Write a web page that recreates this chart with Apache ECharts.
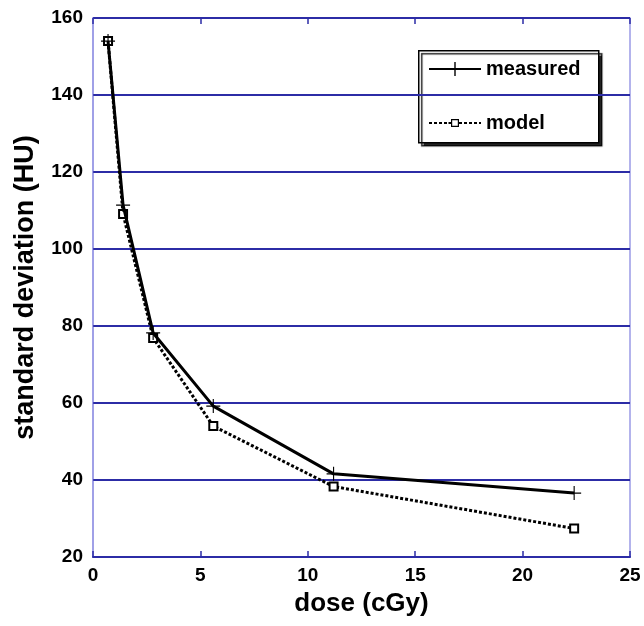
<!DOCTYPE html>
<html>
<head>
<meta charset="utf-8">
<script src="https://cdn.jsdelivr.net/npm/echarts@6/dist/echarts.min.js"></script>
<style>
  html, body { margin: 0; padding: 0; background: #fff; }
  #chart { width: 644px; height: 626px; }
</style>
</head>
<body>
<div id="chart"></div>
<script>
// dose values (cGy) and standard deviation (HU)
var doses = [0.7, 1.4, 2.8, 5.6, 11.2, 22.4];
var measured = [154, 111.4, 78.2, 59.2, 41.6, 36.6];
var model = [154, 109.1, 76.9, 54, 38.3, 27.4];
var xTicks = [0, 5, 10, 15, 20, 25];
var yTicks = [20, 40, 60, 80, 100, 120, 140, 160];

var gridBlue = "#2c2ca6";
var lightBlue = "#9a9ae6";
var font = "Liberation Sans";

function pairs(xs, ys) {
  return xs.map(function (x, i) { return [x, ys[i]]; });
}

// legend icons: solid line with a cross, dotted line with a small square
var measuredIcon = "path://M0,6H52V8H0Z M25.3,0H26.7V14H25.3Z";
var modelIcon = "path://" +
  "M0,6H3V8H0Z M5,6H8V8H5Z M10,6H13V8H10Z M15,6H18V8H15Z M19.5,6H22V8H19.5Z" +
  " M22,3H30V11H22Z M23.2,4.2V9.8H28.8V4.2Z" +
  " M30,6H33V8H30Z M35,6H38V8H35Z M40,6H43V8H40Z M45,6H48V8H45Z M50,6H52V8H50Z" +
  " M26,0H26.01V14H26Z";

var chart = echarts.init(document.getElementById("chart"));

var option = {
  animation: false,
  backgroundColor: "#fff",
  grid: {
    left: 93, right: 14, top: 18, bottom: 69,
    show: true, borderColor: lightBlue, borderWidth: 1.5
  },
  legend: {
    orient: "vertical",
    left: 424, top: 54,
    itemWidth: 52, itemHeight: 14,
    itemGap: 34,
    textStyle: { fontFamily: font, fontWeight: "bold", fontSize: 20, color: "#000" },
    data: [
      { name: "measured", icon: measuredIcon },
      { name: "model", icon: modelIcon }
    ]
  },
  graphic: [{
    type: "rect",
    left: 418, top: 50, z: -1,
    shape: { width: 180, height: 92 },
    style: {
      fill: "#fff", stroke: "#000", lineWidth: 1.5,
      shadowColor: "rgba(0,0,0,0.85)", shadowOffsetX: 3, shadowOffsetY: 3, shadowBlur: 1
    }
  }],
  xAxis: [{
    type: "value", min: xTicks[0], max: xTicks[xTicks.length - 1], interval: 5,
    name: "dose (cGy)", nameLocation: "middle", nameGap: 34,
    nameTextStyle: { fontFamily: font, fontWeight: "bold", fontSize: 26, color: "#000" },
    axisLine: { lineStyle: { color: gridBlue, width: 2 } },
    axisTick: { inside: true, length: 6, lineStyle: { color: gridBlue, width: 1.5 } },
    axisLabel: { fontFamily: font, fontWeight: "bold", fontSize: 19, color: "#000", margin: 9 },
    splitLine: { show: false }
  }, {
    type: "value", position: "top", min: 0, max: 25, interval: 5,
    axisLine: { show: false },
    axisTick: { inside: true, length: 6, lineStyle: { color: gridBlue, width: 1.5 } },
    axisLabel: { show: false },
    splitLine: { show: false }
  }],
  yAxis: {
    type: "value", min: yTicks[0], max: yTicks[yTicks.length - 1], interval: 20,
    name: "standard deviation (HU)", nameLocation: "middle", nameGap: 54,
    nameTextStyle: { fontFamily: font, fontWeight: "bold", fontSize: 27, color: "#000" },
    axisLine: { show: true, lineStyle: { color: lightBlue, width: 1.5 } },
    axisTick: { show: true, inside: true, length: 6, lineStyle: { color: gridBlue, width: 1.5 } },
    axisLabel: { fontFamily: font, fontWeight: "bold", fontSize: 19, color: "#000", margin: 10 },
    splitLine: { show: true, lineStyle: { color: gridBlue, width: 2 } }
  },
  series: [{
    name: "measured",
    type: "line",
    data: pairs(doses, measured),
    symbol: "path://M0,4.6H10V5.4H0Z M4.6,0H5.4V10H4.6Z",
    symbolSize: 14,
    itemStyle: { color: "#000" },
    lineStyle: { color: "#000", width: 3 },
    z: 3
  }, {
    name: "model",
    type: "line",
    data: pairs(doses, model),
    symbol: "emptyRect",
    symbolSize: 8,
    itemStyle: { color: "#000", borderWidth: 1 },
    lineStyle: { color: "#000", width: 3, type: [3, 2] },
    z: 2
  }]
};

chart.setOption(option);
</script>
</body>
</html>
